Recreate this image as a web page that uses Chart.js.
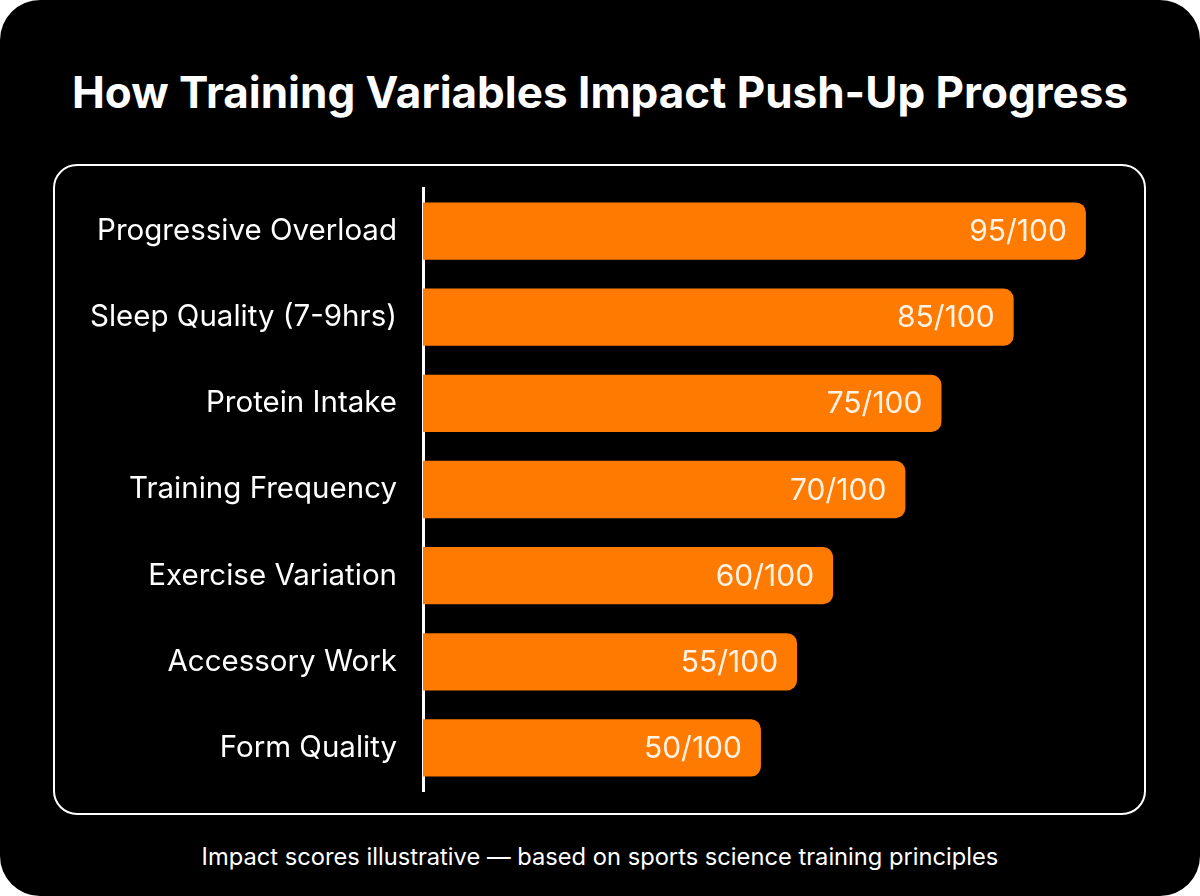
<!DOCTYPE html>
<html>
<head>
<meta charset="utf-8">
<script src="https://cdn.jsdelivr.net/npm/chart.js@4.4.1/dist/chart.umd.min.js"></script>
<style>
  html, body { margin: 0; padding: 0; background: #ffffff; }
  body { width: 1200px; height: 896px; position: relative; overflow: hidden; font-family: Inter, "Noto Sans", sans-serif; }
  #card { position: absolute; left: 0; top: 0; width: 1200px; height: 896px; background: #000; border-radius: 40px; }
  #title { position: absolute; left: 0; top: 62px; width: 1200px; text-align: center; color: #fff; font-weight: 700; font-size: 44px; line-height: 60px; }
  #panel { position: absolute; left: 53px; top: 164px; width: 1089px; height: 647px; border: 2.5px solid #fff; border-radius: 24px; }
  #note { position: absolute; left: 0; top: 841px; width: 1200px; text-align: center; color: #fff; font-size: 23.7px; line-height: 32px; }
  #wrap { position: absolute; left: 0; top: 0; width: 1200px; height: 896px; }
</style>
</head>
<body>
<div id="card"></div>
<div id="title">How Training Variables Impact Push-Up Progress</div>
<div id="panel"></div>
<div id="note">Impact scores illustrative — based on sports science training principles</div>
<div id="wrap"><canvas id="c" width="1200" height="896"></canvas></div>
<script>
const categories = ["Progressive Overload", "Sleep Quality (7-9hrs)", "Protein Intake", "Training Frequency", "Exercise Variation", "Accessory Work", "Form Quality"];
const scores = [95, 85, 75, 70, 60, 55, 50];
const scoreMax = 100;
const valueLabels = scores.map(v => v + "/" + scoreMax);

const barLabelPlugin = {
  id: 'barLabels',
  afterDatasetsDraw(chart) {
    const ctx = chart.ctx;
    const meta = chart.getDatasetMeta(0);
    ctx.save();
    ctx.font = '400 30px Inter, "Noto Sans", sans-serif';
    ctx.fillStyle = 'rgba(255,248,238,0.96)';
    ctx.textAlign = 'right';
    ctx.textBaseline = 'middle';
    meta.data.forEach((bar, i) => {
      ctx.fillText(valueLabels[i], bar.x - 19, bar.y + 1);
    });
    ctx.restore();
  }
};

new Chart(document.getElementById('c'), {
  type: 'bar',
  data: {
    labels: categories,
    datasets: [{
      data: scores,
      backgroundColor: '#FF7A00',
      borderRadius: 10,
      borderSkipped: 'start',
      barPercentage: 0.665,
      categoryPercentage: 1.0
    }]
  },
  options: {
    indexAxis: 'y',
    responsive: false,
    animation: false,
    devicePixelRatio: 1,
    layout: { padding: { left: 0, right: 78, top: 188, bottom: 105 } },
    plugins: { legend: { display: false }, tooltip: { enabled: false }, title: { display: false } },
    scales: {
      x: { display: false, min: 3.2, max: scoreMax },
      y: {
        afterFit(scale) { scale.width = 423; },
        grid: { display: false, drawTicks: false },
        border: { display: true, color: '#ffffff', width: 3 },
        ticks: { color: '#ffffff', padding: 26, font: { family: 'Inter, "Noto Sans", sans-serif', size: 29.5, weight: '400' } }
      }
    }
  },
  plugins: [barLabelPlugin]
});
</script>
</body>
</html>
